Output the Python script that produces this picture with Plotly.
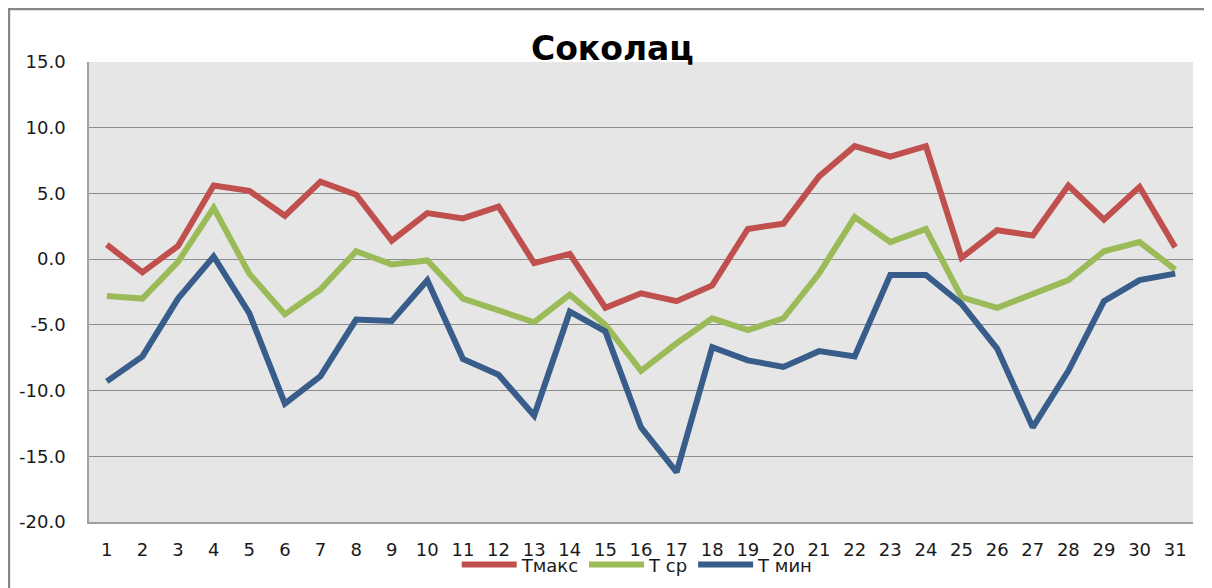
import plotly.graph_objects as go

days = [str(d) for d in range(1, 32)]
t_max = [1.1, -1.0, 1.0, 5.6, 5.2, 3.3, 5.9, 4.9, 1.4, 3.5, 3.1, 4.0, -0.3, 0.4, -3.7, -2.6,
         -3.2, -2.0, 2.3, 2.7, 6.3, 8.6, 7.8, 8.6, 0.1, 2.2, 1.8, 5.6, 3.0, 5.5, 0.9]
t_sr = [-2.8, -3.0, -0.2, 3.9, -1.1, -4.2, -2.3, 0.6, -0.4, -0.1, -3.0, -3.9, -4.8, -2.7, -5.0, -8.5,
        -6.4, -4.5, -5.4, -4.5, -1.1, 3.2, 1.3, 2.3, -2.9, -3.7, -2.6, -1.6, 0.6, 1.3, -0.8]
t_min = [-9.3, -7.4, -3.0, 0.2, -4.1, -11.0, -8.9, -4.6, -4.7, -1.6, -7.6, -8.8, -11.9, -4.0, -5.5, -12.8,
         -16.2, -6.7, -7.7, -8.2, -7.0, -7.4, -1.2, -1.2, -3.4, -6.8, -12.8, -8.5, -3.2, -1.6, -1.1]
y_ticks = [15, 10, 5, 0, -5, -10, -15, -20]

series = [("Тмакс", t_max, "#C0504D"), ("Т ср", t_sr, "#9BBB59"), ("Т мин", t_min, "#385D8A")]

fig = go.Figure()
for name, vals, col in series:
    fig.add_trace(go.Scatter(x=days, y=vals, name=name, mode="lines",
                             line=dict(color=col, width=6)))

fig.update_layout(
    width=1204, height=580,
    margin=dict(l=81, r=19, t=54, b=66, autoexpand=False),
    paper_bgcolor="white", plot_bgcolor="#E6E6E6",
    font=dict(family="DejaVu Sans", size=18, color="#1a1a1a"),
    title=dict(text="<b>Соколац</b>", x=0.502, xanchor="center", y=0.93, yanchor="middle",
               font=dict(family="DejaVu Sans", size=33, color="black")),
    legend=dict(orientation="h", x=0.497, xanchor="center", yref="container", y=0.04, yanchor="middle",
                font=dict(size=18), bgcolor="rgba(0,0,0,0)", itemwidth=55, tracegroupgap=0),
    showlegend=True,
)
fig.update_xaxes(type="category", range=[-0.5, 30.5], showgrid=False, showline=True,
                 linecolor="#A0A0A0", linewidth=2, ticks="", ticklabelstandoff=10,
                 tickfont=dict(size=18), automargin=False)
fig.update_yaxes(range=[-20, 15], tickvals=y_ticks, ticktext=[f"{v:.1f}" for v in y_ticks],
                 showgrid=True, gridcolor="#8C8C8C", gridwidth=1.3, zeroline=False,
                 showline=True, linecolor="#A0A0A0", linewidth=1.5, ticks="",
                 ticklabelstandoff=18, tickfont=dict(size=18), automargin=False)

# outer chart frame (left and top edges)
fig.add_shape(type="line", xref="paper", yref="paper", x0=-0.0725, x1=-0.0725, y0=1.117, y1=-0.2,
              line=dict(color="#868686", width=2.5))
fig.add_shape(type="line", xref="paper", yref="paper", x0=-0.0734, x1=1.0163, y0=1.115, y1=1.115,
              line=dict(color="#868686", width=2.5))

fig.write_html("out.html")
